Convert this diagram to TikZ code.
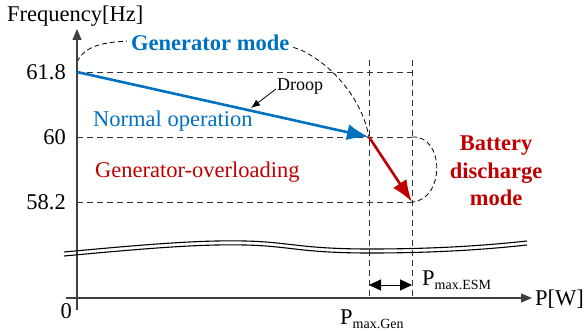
\documentclass[tikz,border=0pt]{standalone}
\usepackage{fontspec}
\setmainfont{Liberation Serif}
\usetikzlibrary{arrows.meta}
\definecolor{myblue}{RGB}{0,112,192}
\definecolor{myred}{RGB}{192,0,0}
\begin{document}
\begin{tikzpicture}[x=1pt,y=-1pt,
  lbl/.style={inner sep=0pt, font=\fontsize{22.5}{27}\selectfont},
  axisline/.style={line width=1.1pt, black!75},
  guide/.style={line width=0.9pt, black!80, dash pattern=on 6pt off 4pt},
  bound/.style={line width=0.8pt, black, dash pattern=on 5pt off 3pt},
  breakline/.style={line width=1.1pt, black},
  mainarrow/.style={line width=2.6pt, -{Latex[length=22pt,width=16pt]}}]
\useasboundingbox (0,0) rectangle (585,331);

% coordinates
\coordinate (ytop) at (77,29);
\coordinate (ybot) at (77,310);
\coordinate (xl) at (66,298);
\coordinate (xr) at (532,298);
\coordinate (A) at (77,72);
\coordinate (B) at (369,137);
\coordinate (C) at (412,202);
\coordinate (Bx) at (412,137);
\coordinate (Ay) at (412,72);
\coordinate (Cy) at (77,202);
\coordinate (v1t) at (369,60);
\coordinate (v1b) at (369,298);
\coordinate (v2t) at (412,60);
\coordinate (v2b) at (412,298);
\coordinate (By) at (77,137);
\coordinate (d1) at (369,285);
\coordinate (d2) at (412,285);
\coordinate (dr1) at (276,89);
\coordinate (dr2) at (251,108);
\coordinate (g0) at (77,62);

% guides
\draw[guide] (A) -- (Ay);
\draw[guide] (By) -- (Bx);
\draw[guide] (Cy) -- (C);
\draw[guide] (v1t) -- (v1b);
\draw[guide] (v2t) -- (v2b);

% mode boundaries
\draw[bound] (g0) .. controls (85,45) and (105,42) .. (130,41)
  .. controls (200,38) and (280,38) .. (305,52)
  .. controls (335,68) and (362,100) .. (B);
\draw[bound] (Bx) .. controls (445,135) and (445,200) .. (C);

% axes
\draw[axisline, -{Triangle[length=11pt,width=9pt]}] (ybot) -- (ytop);
\draw[axisline, -{Triangle[length=11pt,width=9pt]}] (xl) -- (xr);

% break lines
\draw[breakline] (64,252) .. controls (150,244) and (200,240) .. (245,241)
  .. controls (290,242) and (300,249) .. (370,249)
  .. controls (440,249) and (490,245) .. (527,241);
\draw[breakline] (64,256) .. controls (150,248) and (200,244) .. (245,245)
  .. controls (290,246) and (300,253) .. (370,253)
  .. controls (440,253) and (490,249) .. (527,245);

% main arrows
\draw[mainarrow, myblue] (A) -- (B);
\draw[mainarrow, myred] (B) -- (C);

% droop pointer
\draw[line width=0.8pt, -{Latex[length=9pt,width=7pt]}] (dr1) -- (dr2);

% double arrow
\draw[line width=1pt, {Triangle[length=12pt,width=11pt]}-{Triangle[length=12pt,width=11pt]}] (d1) -- (d2);

% labels
\node[lbl, anchor=base west] (freq) at (7,22) {Frequency[Hz]};
\node[lbl, anchor=base east] (t618) at (66,79.5) {61.8};
\node[lbl, anchor=base east] (t60) at (66,144.5) {60};
\node[lbl, anchor=base east] (t582) at (66,209.5) {58.2};
\node[lbl, anchor=base east] (t0) at (72,318) {0};
\node[lbl, anchor=base west] (pw) at (535,305) {P[W]};
\node[lbl, anchor=base west, fill=white, inner xsep=4pt, inner ysep=3pt, text=myblue, font=\bfseries\fontsize{22.5}{27}\selectfont] (gm) at (127,51) {Generator mode};
\node[lbl, anchor=base west, text=myblue] (no) at (93,127) {Normal operation};
\node[lbl, anchor=base west, text=myred] (go) at (95,177) {Generator-overloading};
\node[inner sep=0pt, anchor=base west, font=\fontsize{18}{20}\selectfont] (droop) at (277,91) {Droop};
\node[inner sep=0pt, align=center, text=myred, font=\bfseries\fontsize{22.5}{27.5}\selectfont] (bdm) at (496,171) {Battery\\discharge\\mode};
\node[lbl, anchor=base west] (pesm) at (422,285) {P\raisebox{-4pt}{\fontsize{14}{14}\selectfont max.ESM}};
\node[lbl, anchor=base west] (pgen) at (340,324) {P\raisebox{-4pt}{\fontsize{14}{14}\selectfont max.Gen}};
\end{tikzpicture}
\end{document}
